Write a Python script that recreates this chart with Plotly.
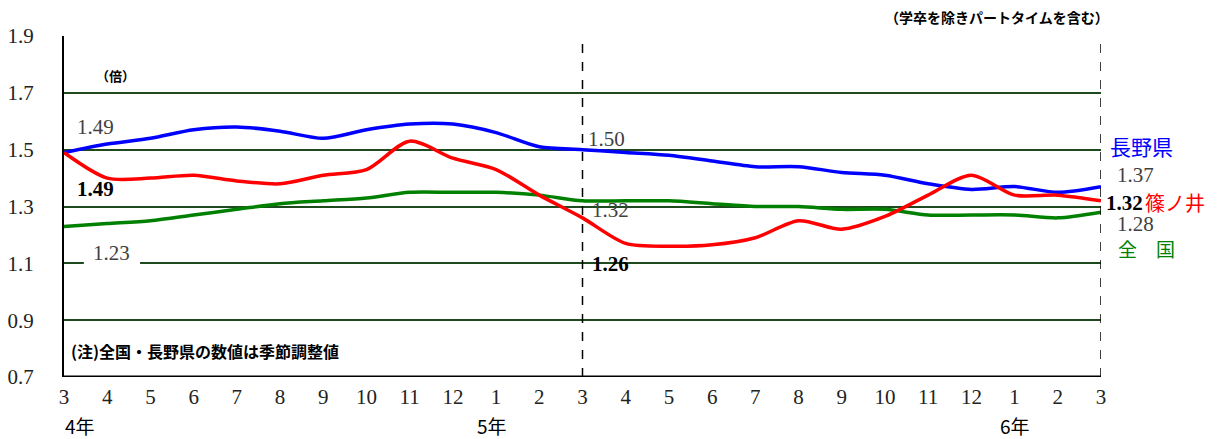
import plotly.graph_objects as go

months = ["3", "4", "5", "6", "7", "8", "9", "10", "11", "12", "1", "2",
          "3", "4", "5", "6", "7", "8", "9", "10", "11", "12", "1", "2", "3"]
x_idx = list(range(len(months)))

nagano = [1.49, 1.52, 1.54, 1.57, 1.58, 1.565, 1.54, 1.57, 1.59, 1.59, 1.56, 1.51,
          1.50, 1.49, 1.48, 1.46, 1.44, 1.44, 1.42, 1.41, 1.38, 1.36, 1.37, 1.35, 1.37]
shinonoi = [1.49, 1.40, 1.40, 1.41, 1.39, 1.38, 1.41, 1.43, 1.53, 1.47, 1.43, 1.34,
            1.26, 1.17, 1.16, 1.165, 1.19, 1.25, 1.22, 1.265, 1.34, 1.41, 1.34, 1.34, 1.32]
zenkoku = [1.23, 1.24, 1.25, 1.27, 1.29, 1.31, 1.32, 1.33, 1.35, 1.35, 1.35, 1.34,
           1.32, 1.32, 1.32, 1.31, 1.30, 1.30, 1.29, 1.29, 1.27, 1.27, 1.27, 1.26, 1.28]
year_labels = ["4年", "5年", "6年"]
year_pos = [0.37, 9.9, 22.0]

SERIF = "Liberation Serif, DejaVu Serif, serif"
SANS = "Noto Sans CJK JP, Noto Sans, sans-serif"
BLUE = "#0000ff"
RED = "#ff0000"
GREEN = "#008000"
GRID = "#1f4a1f"
GRAY = "#404040"
NX = len(months) - 1

fig = go.Figure()
for name, vals, col in [("全国", zenkoku, GREEN), ("長野県", nagano, BLUE), ("篠ノ井", shinonoi, RED)]:
    fig.add_trace(go.Scatter(x=x_idx, y=vals, mode="lines", name=name,
                             line=dict(color=col, width=3.5, shape="spline", smoothing=0.8),
                             cliponaxis=False, hoverinfo="skip"))

shapes = [
    dict(type="line", xref="x", yref="y", x0=12, x1=12, y0=0.7, y1=1.9,
         line=dict(color="black", width=1.5, dash="dash"), layer="above"),
    dict(type="line", xref="x", yref="y", x0=24, x1=24, y0=0.7, y1=1.9,
         line=dict(color="black", width=1.5, dash="dash"), layer="above"),
    dict(type="rect", xref="x", yref="y", x0=0.46, x1=1.76, y0=1.085, y1=1.115,
         fillcolor="white", line=dict(width=0), layer="between"),
    dict(type="line", xref="x", yref="y", x0=0, x1=24, y0=0.7, y1=0.7,
         line=dict(color="black", width=3), layer="above"),
]

ann = []
def A(text, x, y, size=21, color=GRAY, family=SERIF, xanchor="center", bold=False, outside=False):
    t = f"<b>{text}</b>" if bold else text
    ann.append(dict(text=t, x=(x / NX) if outside else x, y=y,
                    xref="paper" if outside else "x", yref="y", showarrow=False,
                    font=dict(size=size, color=color, family=family), borderpad=0,
                    xanchor=xanchor, yanchor="middle"))

A("1.49", 0.74, 1.579)
A("1.49", 0.74, 1.363, color="black", bold=True)
A("1.23", 1.1, 1.136)
A("1.50", 12.1, 1.536, xanchor="left")
A("1.32", 12.2, 1.289, xanchor="left")
A("1.26", 12.2, 1.098, color="black", xanchor="left", bold=True)
A("長野県", 24.93, 1.512, size=21, color=BLUE, family=SANS, outside=True)
A("1.37", 24.8, 1.412, outside=True)
A("1.32", 24.1, 1.313, color="black", xanchor="left", bold=True, outside=True)
A("篠ノ井", 25.0, 1.313, size=20, color=RED, family=SANS, xanchor="left", outside=True)
A("1.28", 24.8, 1.240, outside=True)
A("全　国", 25.05, 1.152, size=19, color=GREEN, family=SANS, outside=True)
A("（倍）", 1.2, 1.76, size=13, color="black", family=SANS, bold=True)
A("(注)全国・長野県の数値は季節調整値", 0.13, 0.79, size=16, color="black", family=SANS,
  xanchor="left", bold=True)
ann.append(dict(text="<b>（学卒を除きパートタイムを含む）</b>", x=0.9, y=1.056, xref="paper", yref="paper",
                showarrow=False, font=dict(size=14, color="black", family=SANS),
                xanchor="center", yanchor="middle"))
for t, p in zip(year_labels, year_pos):
    ann.append(dict(text=t, x=p, y=-0.141, xref="x", yref="paper", showarrow=False,
                    font=dict(size=19, color="black", family=SANS),
                    xanchor="center", yanchor="middle"))

fig.update_layout(
    width=1214, height=431,
    margin=dict(l=56, r=121, t=28, b=62),
    paper_bgcolor="white", plot_bgcolor="white",
    showlegend=False,
    shapes=shapes, annotations=ann,
    xaxis=dict(range=[0, 24], tickvals=x_idx, ticktext=months, showgrid=False,
               zeroline=False, showline=False, ticks="", automargin=False,
               tickfont=dict(family=SERIF, size=21, color="#222222"),
               ticklabelstandoff=5),
    yaxis=dict(range=[0.7, 1.9], tickvals=[0.7, 0.9, 1.1, 1.3, 1.5, 1.7, 1.9],
               ticktext=["0.7", "0.9", "1.1", "1.3", "1.5", "1.7", "1.9"],
               showgrid=True, gridcolor=GRID, gridwidth=1.6, automargin=False,
               zeroline=False, showline=True, linecolor="black", linewidth=2,
               ticks="", tickfont=dict(family=SERIF, size=21, color="#222222"),
               ticklabelstandoff=24),
)

fig.write_html("out.html")
